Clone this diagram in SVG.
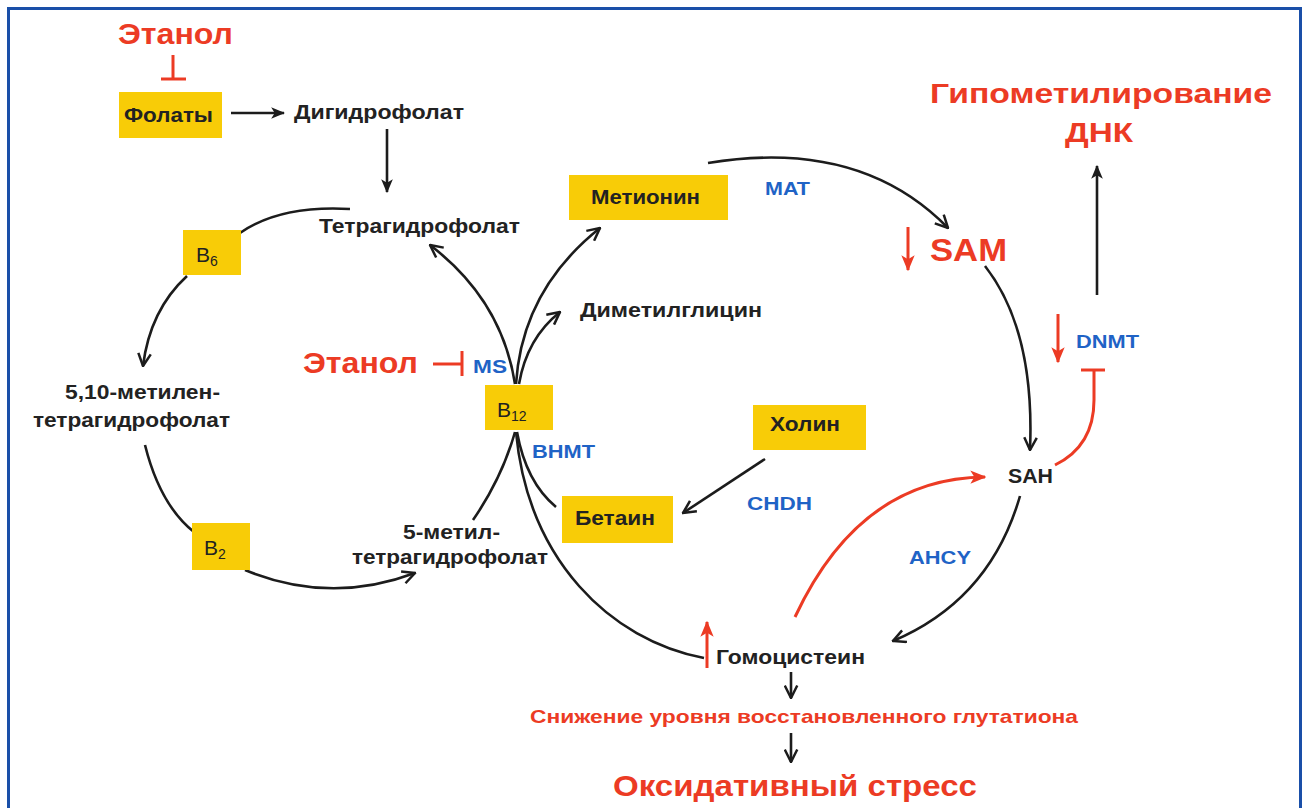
<svg xmlns="http://www.w3.org/2000/svg" width="1304" height="808" viewBox="0 0 1304 808">
<defs>
<style>
.lbl{font-family:"Liberation Sans",Arial,sans-serif;font-weight:bold;fill:#222;font-size:20px}
.red{font-family:"Liberation Sans",Arial,sans-serif;font-weight:bold;fill:#ec3b24}
.blue{font-family:"Liberation Sans",Arial,sans-serif;font-weight:bold;fill:#1f63c6;font-size:19px}
.vit{font-family:"Liberation Sans",Arial,sans-serif;fill:#222;font-size:21px}
.box{fill:#f8cc07}
.ln{fill:none;stroke:#1c1c1c;stroke-width:2.6}
.rl{fill:none;stroke:#ec3b24;stroke-width:3}
</style>
<marker id="arr" viewBox="0 0 12 12" refX="11" refY="6" markerWidth="15" markerHeight="15" markerUnits="userSpaceOnUse" orient="auto">
<path d="M1,1 L11,6 L1,11" fill="none" stroke="#1c1c1c" stroke-width="2"/>
</marker>
<marker id="arrF" viewBox="0 0 12 12" refX="11" refY="6" markerWidth="14" markerHeight="14" markerUnits="userSpaceOnUse" orient="auto">
<path d="M0,1 L12,6 L0,11 L3,6 Z" fill="#1c1c1c"/>
</marker>
<marker id="arrR" viewBox="0 0 12 12" refX="11" refY="6" markerWidth="16" markerHeight="16" markerUnits="userSpaceOnUse" orient="auto">
<path d="M0,1 L12,6 L0,11 L3,6 Z" fill="#ec3b24"/>
</marker>
</defs>
<rect x="0" y="0" width="1304" height="808" fill="#ffffff"/>
<rect x="8.5" y="8.5" width="1292" height="830" fill="none" stroke="#1a4fa8" stroke-width="3"/>

<g id="connectors">
<line class="ln" x1="231" y1="113" x2="284" y2="113" marker-end="url(#arrF)"/>
<line class="ln" x1="387" y1="129" x2="387" y2="192" marker-end="url(#arrF)"/>
<path class="ln" d="M350 209 Q280 205 240 233"/>
<path class="ln" d="M187 276 Q150 310 143 366" marker-end="url(#arr)"/>
<path class="ln" d="M145 445 Q160 505 194 532"/>
<path class="ln" d="M245 570 Q330 605 415 573" marker-end="url(#arr)"/>
<path class="ln" d="M473 520 Q502 478 515 432"/>
<path class="ln" d="M515 384 Q502 300 430 245" marker-end="url(#arr)"/>
<path class="ln" d="M516 384 Q522 290 600 228" marker-end="url(#arr)"/>
<path class="ln" d="M519 384 Q527 338 560 312" marker-end="url(#arr)"/>
<path class="ln" d="M556 507 Q526 482 517 432"/>
<path class="ln" d="M516 432 C528 560 610 640 704 658"/>
<path class="ln" d="M708 163 Q860 138 948 228" marker-end="url(#arr)"/>
<path class="ln" d="M985 266 Q1035 330 1030 450" marker-end="url(#arr)"/>
<path class="ln" d="M1020 496 Q990 600 893 641" marker-end="url(#arr)"/>
<line class="ln" x1="765" y1="459" x2="683" y2="513" marker-end="url(#arr)"/>
<line class="ln" x1="1097" y1="295" x2="1097" y2="166" marker-end="url(#arrF)"/>
<line class="ln" x1="791" y1="672" x2="791" y2="698" marker-end="url(#arr)"/>
<line class="ln" x1="791" y1="733" x2="791" y2="762" marker-end="url(#arr)"/>
<path class="rl" d="M795 617 Q860 478 985 477" marker-end="url(#arrR)"/>
<path class="rl" d="M1055 465 Q1094 446 1094 400 L1094 371"/>
<line class="rl" x1="1081" y1="370" x2="1105" y2="370"/>
<line class="rl" x1="173" y1="55" x2="173" y2="79"/>
<line class="rl" x1="161" y1="79" x2="186" y2="79"/>
<line class="rl" x1="433" y1="364" x2="461" y2="364"/>
<line class="rl" x1="462" y1="351" x2="462" y2="376"/>
<line class="rl" x1="908" y1="227" x2="908" y2="270" marker-end="url(#arrR)"/>
<line class="rl" x1="1058" y1="314" x2="1058" y2="362" marker-end="url(#arrR)"/>
<line class="rl" x1="707" y1="668" x2="707" y2="622" marker-end="url(#arrR)"/>
</g>

<g id="ethanol-top"><text class="red" x="118" y="44" font-size="29" textLength="115" lengthAdjust="spacingAndGlyphs">Этанол</text></g>
<g id="folaty"><rect class="box" x="119" y="92" width="103" height="46"/><text class="lbl" x="124" y="122" font-size="19" textLength="89" lengthAdjust="spacingAndGlyphs">Фолаты</text></g>
<g id="dihydrofolate"><text class="lbl" x="294" y="119" textLength="170" lengthAdjust="spacingAndGlyphs">Дигидрофолат</text></g>
<g id="thf"><text class="lbl" x="319" y="233" textLength="201" lengthAdjust="spacingAndGlyphs">Тетрагидрофолат</text></g>
<g id="b6"><rect class="box" x="183" y="230" width="58" height="45"/><text class="vit" x="196" y="262">B<tspan font-size="14" dy="4">6</tspan></text></g>
<g id="methylene-thf"><text class="lbl" x="65" y="399" textLength="155" lengthAdjust="spacingAndGlyphs">5,10-метилен-</text><text class="lbl" x="33" y="427" textLength="197" lengthAdjust="spacingAndGlyphs">тетрагидрофолат</text></g>
<g id="b2"><rect class="box" x="192" y="523" width="58" height="47"/><text class="vit" x="204" y="555">B<tspan font-size="14" dy="4">2</tspan></text></g>
<g id="methyl-thf"><text class="lbl" x="403" y="539" textLength="97" lengthAdjust="spacingAndGlyphs">5-метил-</text><text class="lbl" x="352" y="564" textLength="196" lengthAdjust="spacingAndGlyphs">тетрагидрофолат</text></g>
<g id="ethanol-ms"><text class="red" x="303" y="373" font-size="29" textLength="115" lengthAdjust="spacingAndGlyphs">Этанол</text><text class="blue" x="473" y="373" font-size="18" textLength="34" lengthAdjust="spacingAndGlyphs">MS</text></g>
<g id="b12"><rect class="box" x="485" y="385" width="68" height="45"/><text class="vit" x="497" y="417">B<tspan font-size="14" dy="4">12</tspan></text></g>
<g id="bhmt"><text class="blue" x="532" y="458" textLength="63" lengthAdjust="spacingAndGlyphs">BHMT</text></g>
<g id="methionine"><rect class="box" x="569" y="175" width="159" height="45"/><text class="lbl" x="591" y="204" textLength="109" lengthAdjust="spacingAndGlyphs">Метионин</text></g>
<g id="dimethylglycine"><text class="lbl" x="580" y="317" textLength="182" lengthAdjust="spacingAndGlyphs">Диметилглицин</text></g>
<g id="mat"><text class="blue" x="765" y="195" textLength="45" lengthAdjust="spacingAndGlyphs">MAT</text></g>
<g id="sam"><text class="red" x="930" y="261" font-size="31" textLength="77" lengthAdjust="spacingAndGlyphs">SAM</text></g>
<g id="hypomethylation"><text class="red" x="930" y="103" font-size="28" textLength="342" lengthAdjust="spacingAndGlyphs">Гипометилирование</text><text class="red" x="1065" y="142" font-size="28" textLength="68" lengthAdjust="spacingAndGlyphs">ДНК</text></g>
<g id="dnmt"><text class="blue" x="1076" y="348" textLength="63" lengthAdjust="spacingAndGlyphs">DNMT</text></g>
<g id="choline"><rect class="box" x="753" y="405" width="113" height="45"/><text class="lbl" x="770" y="431" textLength="70" lengthAdjust="spacingAndGlyphs">Холин</text></g>
<g id="betaine"><rect class="box" x="562" y="496" width="111" height="47"/><text class="lbl" x="575" y="525" textLength="80" lengthAdjust="spacingAndGlyphs">Бетаин</text></g>
<g id="chdh"><text class="blue" x="747" y="510" textLength="65" lengthAdjust="spacingAndGlyphs">CHDH</text></g>
<g id="sah"><text class="lbl" x="1008" y="483" font-size="19" textLength="45" lengthAdjust="spacingAndGlyphs">SAH</text></g>
<g id="ahcy"><text class="blue" x="909" y="564" textLength="62" lengthAdjust="spacingAndGlyphs">AHCY</text></g>
<g id="homocysteine"><text class="lbl" x="716" y="664" font-size="19" textLength="149" lengthAdjust="spacingAndGlyphs">Гомоцистеин</text></g>
<g id="glutathione"><text class="red" x="530" y="723" font-size="19" textLength="548" lengthAdjust="spacingAndGlyphs">Снижение уровня восстановленного глутатиона</text></g>
<g id="oxidative"><text class="red" x="613" y="796" font-size="30" textLength="364" lengthAdjust="spacingAndGlyphs">Оксидативный стресс</text></g>
</svg>
